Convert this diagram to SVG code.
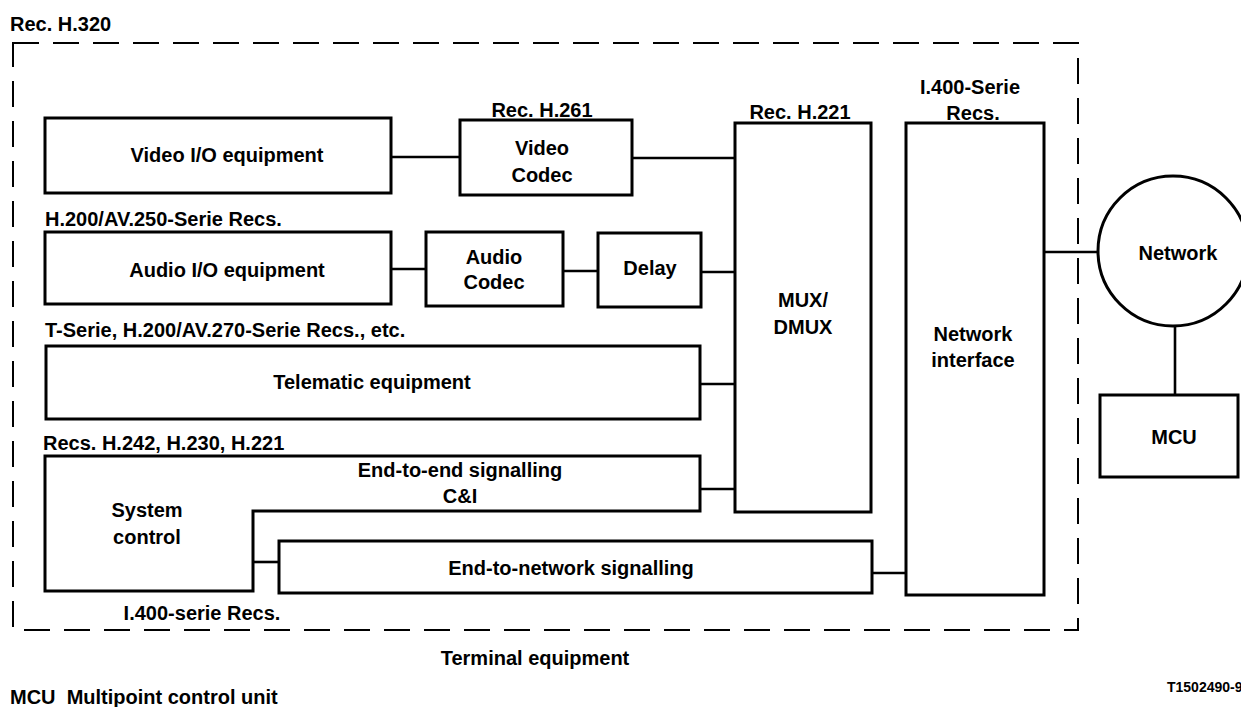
<svg xmlns="http://www.w3.org/2000/svg" width="1241" height="707" viewBox="0 0 1241 707">
<style>
text{font-family:"Liberation Sans",Arial,sans-serif;font-weight:bold;font-size:20px;fill:#000}
.c{text-anchor:middle}
.box{fill:#fff;stroke:#000;stroke-width:3}
.ln{fill:none;stroke:#000;stroke-width:2.6}
.dash{fill:none;stroke:#000;stroke-width:2;stroke-dasharray:26 14}
.pre{white-space:pre}
</style>
<rect width="1241" height="707" fill="#fff"/>
<g id="terminal-boundary">
<path class="dash" d="M13,43 H1078 V630 H13 Z"/>
<text x="10" y="31">Rec. H.320</text>
<text class="c" x="535" y="665">Terminal equipment</text>
</g>
<g id="connectors">
<line class="ln" x1="391" y1="157" x2="460" y2="157"/>
<line class="ln" x1="632" y1="158" x2="735" y2="158"/>
<line class="ln" x1="391" y1="269" x2="426" y2="269"/>
<line class="ln" x1="563" y1="271" x2="598" y2="271"/>
<line class="ln" x1="701" y1="272" x2="735" y2="272"/>
<line class="ln" x1="700" y1="384" x2="735" y2="384"/>
<line class="ln" x1="700" y1="489" x2="735" y2="489"/>
<line class="ln" x1="253" y1="562" x2="279" y2="562"/>
<line class="ln" x1="872" y1="573" x2="906" y2="573"/>
<line class="ln" x1="1044" y1="252" x2="1098" y2="252"/>
<line class="ln" x1="1175" y1="326" x2="1175" y2="395"/>
</g>
<g id="video-io">
<rect class="box" x="45" y="118" width="346" height="75"/>
<text class="c" x="227" y="162">Video I/O equipment</text>
</g>
<g id="video-codec">
<text class="c" x="542" y="117">Rec. H.261</text>
<rect class="box" x="460" y="120" width="172" height="75"/>
<text class="c" x="542" y="155">Video</text>
<text class="c" x="542" y="182">Codec</text>
</g>
<g id="audio-io">
<text x="45" y="226">H.200/AV.250-Serie Recs.</text>
<rect class="box" x="45" y="232" width="346" height="72"/>
<text class="c" x="227" y="277">Audio I/O equipment</text>
</g>
<g id="audio-codec">
<rect class="box" x="426" y="232" width="137" height="74"/>
<text class="c" x="494" y="264">Audio</text>
<text class="c" x="494" y="289">Codec</text>
</g>
<g id="delay">
<rect class="box" x="598" y="233" width="103" height="74"/>
<text class="c" x="650" y="275">Delay</text>
</g>
<g id="mux">
<text class="c" x="800" y="119">Rec. H.221</text>
<rect class="box" x="735" y="123" width="136" height="389"/>
<text class="c" x="803" y="307">MUX/</text>
<text class="c" x="803" y="334">DMUX</text>
</g>
<g id="telematic">
<text x="45" y="337">T-Serie, H.200/AV.270-Serie Recs., etc.</text>
<rect class="box" x="46" y="346" width="654" height="73"/>
<text class="c" x="372" y="389">Telematic equipment</text>
</g>
<g id="system-control">
<text x="43" y="450">Recs. H.242, H.230, H.221</text>
<path class="box" d="M45,456 H700 V511 H253 V591 H45 Z"/>
<text class="c" x="147" y="517">System</text>
<text class="c" x="147" y="544">control</text>
<text class="c" x="460" y="477">End-to-end signalling</text>
<text class="c" x="460" y="503">C&amp;I</text>
<text class="c" x="202" y="620">I.400-serie Recs.</text>
</g>
<g id="end-to-network">
<rect class="box" x="279" y="541" width="593" height="52"/>
<text class="c" x="571" y="575">End-to-network signalling</text>
</g>
<g id="network-interface">
<text class="c" x="970" y="94">I.400-Serie</text>
<text class="c" x="973" y="120">Recs.</text>
<rect class="box" x="906" y="123" width="138" height="472"/>
<text class="c" x="973" y="341">Network</text>
<text class="c" x="973" y="367">interface</text>
</g>
<g id="network">
<circle class="box" cx="1173" cy="251" r="75"/>
<text class="c" x="1178" y="260">Network</text>
</g>
<g id="mcu">
<rect class="box" x="1100" y="395" width="138" height="82"/>
<text class="c" x="1174" y="444">MCU</text>
</g>
<g id="footer">
<text class="pre" x="10" y="704">MCU  Multipoint control unit</text>
<text x="1167" y="692" style="font-size:14px">T1502490-9</text>
</g>
</svg>
